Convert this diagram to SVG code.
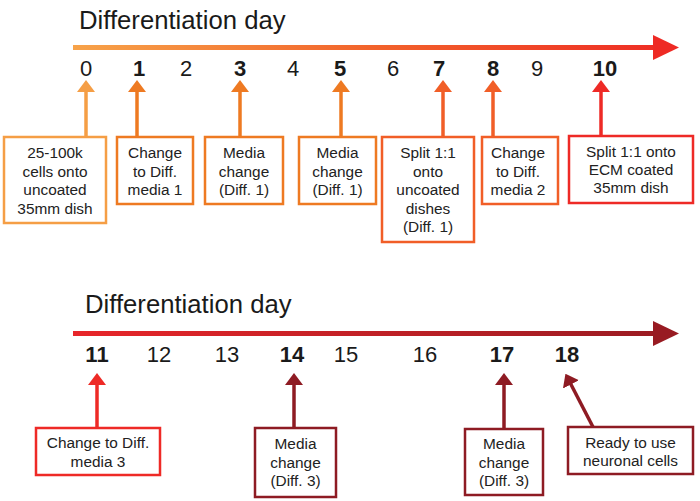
<svg xmlns="http://www.w3.org/2000/svg" width="700" height="501" viewBox="0 0 700 501">
<style>
text{font-family:"Liberation Sans",Arial,sans-serif;fill:#1a1a1a}
.title{font-size:25.7px}
.num{font-size:22px;text-anchor:middle}
.b{font-weight:bold}
.lbl{font-size:15.4px;text-anchor:middle;fill:#222}
.box{fill:#fff;stroke-width:2.5}
.arr{stroke-width:3.5;fill:none}
</style>
<defs>
<linearGradient id="g1" x1="73" y1="0" x2="680" y2="0" gradientUnits="userSpaceOnUse">
<stop offset="0" stop-color="#F7A349"/>
<stop offset="0.5" stop-color="#F2622B"/>
<stop offset="1" stop-color="#EE2A24"/>
</linearGradient>
<linearGradient id="g2" x1="73" y1="0" x2="680" y2="0" gradientUnits="userSpaceOnUse">
<stop offset="0" stop-color="#E8262A"/>
<stop offset="1" stop-color="#981B22"/>
</linearGradient>
<marker id="mA" viewBox="0 0 12 18" refX="1" refY="9" markerWidth="12" markerHeight="18" markerUnits="userSpaceOnUse" orient="auto"><path d="M0,0L12,9L0,18Z" fill="#F59E45"/></marker>
<marker id="mB" viewBox="0 0 12 18" refX="1" refY="9" markerWidth="12" markerHeight="18" markerUnits="userSpaceOnUse" orient="auto"><path d="M0,0L12,9L0,18Z" fill="#EE7A22"/></marker>
<marker id="mC" viewBox="0 0 12 18" refX="1" refY="9" markerWidth="12" markerHeight="18" markerUnits="userSpaceOnUse" orient="auto"><path d="M0,0L12,9L0,18Z" fill="#F15E27"/></marker>
<marker id="mD" viewBox="0 0 12 18" refX="1" refY="9" markerWidth="12" markerHeight="18" markerUnits="userSpaceOnUse" orient="auto"><path d="M0,0L12,9L0,18Z" fill="#EE2A26"/></marker>
<marker id="mE" viewBox="0 0 12 18" refX="1" refY="9" markerWidth="12" markerHeight="18" markerUnits="userSpaceOnUse" orient="auto"><path d="M0,0L12,9L0,18Z" fill="#8E1B23"/></marker>
</defs>

<g id="timeline1">
<text class="title" x="79" y="29">Differentiation day</text>
<rect x="73" y="45" width="582" height="5" fill="url(#g1)"/>
<path d="M653,35L679,47.5L653,60Z" fill="#EE2A24"/>
<text class="num" x="86" y="76">0</text>
<text class="num b" x="139" y="76">1</text>
<text class="num" x="186" y="76">2</text>
<text class="num b" x="240" y="76">3</text>
<text class="num" x="293" y="76">4</text>
<text class="num b" x="340" y="76">5</text>
<text class="num" x="393" y="76">6</text>
<text class="num b" x="439" y="76">7</text>
<text class="num b" x="493" y="76">8</text>
<text class="num" x="537" y="76">9</text>
<text class="num b" x="605" y="76">10</text>
</g>

<g id="timeline2">
<text class="title" x="85" y="313">Differentiation day</text>
<rect x="73" y="331" width="582" height="5" fill="url(#g2)"/>
<path d="M653,321L679,333.5L653,346Z" fill="#981B22"/>
<text class="num b" x="97" y="362">11</text>
<text class="num" x="159" y="362">12</text>
<text class="num" x="227" y="362">13</text>
<text class="num b" x="292" y="362">14</text>
<text class="num" x="346" y="362">15</text>
<text class="num" x="425" y="362">16</text>
<text class="num b" x="502" y="362">17</text>
<text class="num b" x="567" y="362">18</text>
</g>

<g id="connectors">
<line class="arr" x1="86" y1="137" x2="86" y2="91" stroke="#F59E45" marker-end="url(#mA)"/>
<line class="arr" x1="137" y1="137" x2="137" y2="91" stroke="#EE7A22" marker-end="url(#mB)"/>
<line class="arr" x1="240" y1="137" x2="240" y2="91" stroke="#EE7A22" marker-end="url(#mB)"/>
<line class="arr" x1="341" y1="137" x2="341" y2="91" stroke="#EE7A22" marker-end="url(#mB)"/>
<line class="arr" x1="443" y1="137" x2="443" y2="91" stroke="#F15E27" marker-end="url(#mC)"/>
<line class="arr" x1="493" y1="137" x2="493" y2="91" stroke="#F15E27" marker-end="url(#mC)"/>
<line class="arr" x1="601" y1="136" x2="601" y2="91" stroke="#EE2A26" marker-end="url(#mD)"/>
<line class="arr" x1="97" y1="428" x2="97" y2="384" stroke="#EE2A26" marker-end="url(#mD)"/>
<line class="arr" x1="294" y1="428" x2="294" y2="384" stroke="#8E1B23" marker-end="url(#mE)"/>
<line class="arr" x1="504" y1="429" x2="504" y2="384" stroke="#8E1B23" marker-end="url(#mE)"/>
<line class="arr" x1="593" y1="427" x2="570.5" y2="383.5" stroke="#8E1B23" marker-end="url(#mE)"/>
</g>

<g id="n0">
<rect class="box" x="4" y="137" width="102" height="86" stroke="#F59E45"/>
<text class="lbl" x="55" y="158">25-100k</text>
<text class="lbl" x="55" y="176.5">cells onto</text>
<text class="lbl" x="55" y="195">uncoated</text>
<text class="lbl" x="55" y="213.5">35mm dish</text>
</g>
<g id="n1">
<rect class="box" x="117" y="137" width="76" height="67" stroke="#EE7A22"/>
<text class="lbl" x="155" y="158">Change</text>
<text class="lbl" x="155" y="176.5">to Diff.</text>
<text class="lbl" x="155" y="195">media 1</text>
</g>
<g id="n3">
<rect class="box" x="205" y="137" width="78" height="67" stroke="#EE7A22"/>
<text class="lbl" x="244" y="158">Media</text>
<text class="lbl" x="244" y="176.5">change</text>
<text class="lbl" x="244" y="195">(Diff. 1)</text>
</g>
<g id="n5">
<rect class="box" x="299" y="137" width="77" height="67" stroke="#EE7A22"/>
<text class="lbl" x="337.5" y="158">Media</text>
<text class="lbl" x="337.5" y="176.5">change</text>
<text class="lbl" x="337.5" y="195">(Diff. 1)</text>
</g>
<g id="n7">
<rect class="box" x="382" y="137" width="92" height="105" stroke="#F15E27"/>
<text class="lbl" x="428" y="158">Split 1:1</text>
<text class="lbl" x="428" y="176.5">onto</text>
<text class="lbl" x="428" y="195">uncoated</text>
<text class="lbl" x="428" y="213.5">dishes</text>
<text class="lbl" x="428" y="232">(Diff. 1)</text>
</g>
<g id="n8">
<rect class="box" x="482" y="137" width="76" height="67" stroke="#F15E27"/>
<text class="lbl" x="518" y="158">Change</text>
<text class="lbl" x="518" y="176.5">to Diff.</text>
<text class="lbl" x="518" y="195">media 2</text>
</g>
<g id="n10">
<rect class="box" x="569" y="136" width="124" height="67" stroke="#EE2A26"/>
<text class="lbl" x="631" y="157">Split 1:1 onto</text>
<text class="lbl" x="631" y="175">ECM coated</text>
<text class="lbl" x="631" y="193">35mm dish</text>
</g>
<g id="n11">
<rect class="box" x="36" y="428" width="124" height="47" stroke="#EE2A26"/>
<text class="lbl" x="98" y="448">Change to Diff.</text>
<text class="lbl" x="98" y="467">media 3</text>
</g>
<g id="n14">
<rect class="box" x="255" y="428" width="81" height="69" stroke="#8E1B23"/>
<text class="lbl" x="295.5" y="449">Media</text>
<text class="lbl" x="295.5" y="467.5">change</text>
<text class="lbl" x="295.5" y="486">(Diff. 3)</text>
</g>
<g id="n17">
<rect class="box" x="465" y="429" width="78" height="66" stroke="#8E1B23"/>
<text class="lbl" x="504" y="449">Media</text>
<text class="lbl" x="504" y="467.5">change</text>
<text class="lbl" x="504" y="486">(Diff. 3)</text>
</g>
<g id="n18">
<rect class="box" x="568" y="427" width="125" height="47" stroke="#8E1B23"/>
<text class="lbl" x="630.5" y="448">Ready to use</text>
<text class="lbl" x="630.5" y="466">neuronal cells</text>
</g>
</svg>
